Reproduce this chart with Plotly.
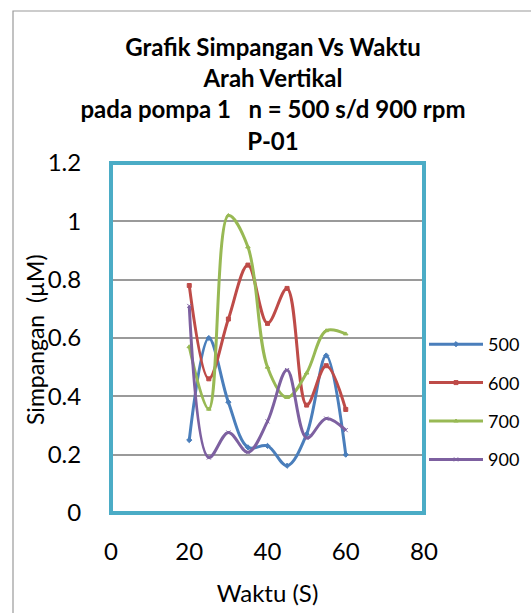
import plotly.graph_objects as go

waktu = [20, 25, 30, 35, 40, 45, 50, 55, 60]
rpm_500 = [0.25, 0.60, 0.38, 0.225, 0.23, 0.162, 0.27, 0.54, 0.20]
rpm_600 = [0.78, 0.46, 0.665, 0.85, 0.65, 0.77, 0.37, 0.505, 0.355]
rpm_700 = [0.57, 0.356, 1.02, 0.912, 0.50, 0.396, 0.48, 0.625, 0.614]
rpm_900 = [0.71, 0.19, 0.276, 0.208, 0.314, 0.49, 0.257, 0.324, 0.284]

series_names = ["500", "600", "700", "900"]
series_vals = [rpm_500, rpm_600, rpm_700, rpm_900]
colors = ["#4A7EBB", "#BE4B48", "#98B954", "#7D60A0"]
symbols = ["diamond", "square", "triangle-up", "x-thin"]

x_ticks = [0, 20, 40, 60, 80]
y_ticks = [0, 0.2, 0.4, 0.6, 0.8, 1.0, 1.2]
y_tick_text = ["0", "0.2", "0.4", "0.6", "0.8", "1", "1.2"]

FONT = "Lato"

fig = go.Figure()
for i, (name, vals, col, sym) in enumerate(zip(series_names, series_vals, colors, symbols)):
    fig.add_trace(go.Scatter(
        x=waktu, y=vals, name=name, mode="lines+markers",
        line=dict(color=col, width=3, shape="spline", smoothing=1.0),
        marker=dict(symbol=sym, size=4, color=col, line=dict(color=col, width=1)),
        legendgroup=name,
    ))

L, R, T, B = 111, 107, 163, 100
W, H = 531, 613
pw = W - L - R
ph = H - T - B

def px_x(p):
    return (p - L) / pw

def px_y(p):
    return (H - B - p) / ph

shapes = [
    # outer chart border
    dict(type="rect", xref="paper", yref="paper",
         x0=px_x(13), x1=px_x(545), y0=px_y(630), y1=px_y(11),
         line=dict(color="#9A9A9A", width=1.2), layer="below"),
    # plot area frame
    dict(type="rect", xref="paper", yref="paper", x0=0, x1=1, y0=0, y1=1,
         line=dict(color="#4BACC6", width=4), layer="above"),
]

annotations = [
    dict(text="Simpangan&nbsp; (µM)", xref="paper", yref="paper",
         x=px_x(35), y=px_y(340), xanchor="center", yanchor="middle",
         textangle=-90, showarrow=False, font=dict(size=23, family=FONT)),
]

fig.update_layout(
    width=W, height=H,
    margin=dict(l=L, r=R, t=T, b=B, autoexpand=False),
    paper_bgcolor="white", plot_bgcolor="white",
    font=dict(family=FONT, color="#000000"),
    title=dict(
        text="Grafik Simpangan Vs Waktu<br>Arah Vertikal<br>pada pompa 1   n = 500 s/d 900 rpm<br>P-01",
        font=dict(family=FONT, size=24, color="#000000", weight="bold"),
        x=273 / W, xanchor="center", y=1 - 56 / H, yanchor="top",
    ),
    xaxis=dict(
        range=[0, 80], tickvals=x_ticks, showgrid=False, zeroline=False,
        showline=False, ticks="outside", ticklen=0,
        tickfont=dict(size=24, family=FONT), ticklabelstandoff=17,
        title=dict(text="Waktu (S)", font=dict(size=24, family=FONT), standoff=21),
    ),
    yaxis=dict(
        range=[0, 1.2], tickvals=y_ticks, ticktext=y_tick_text,
        showgrid=True, gridcolor="#9A9A9A", gridwidth=1.5, zeroline=False,
        showline=False, ticks="outside", ticklen=0,
        tickfont=dict(size=24, family=FONT), ticklabelstandoff=24,
    ),
    legend=dict(
        x=px_x(424), xanchor="left", y=px_y(326), yanchor="top",
        font=dict(size=18, family=FONT), traceorder="grouped",
        tracegroupgap=12, bgcolor="rgba(0,0,0,0)", itemwidth=54,
    ),
    annotations=annotations,
    shapes=shapes,
)

fig.write_html("out.html")
